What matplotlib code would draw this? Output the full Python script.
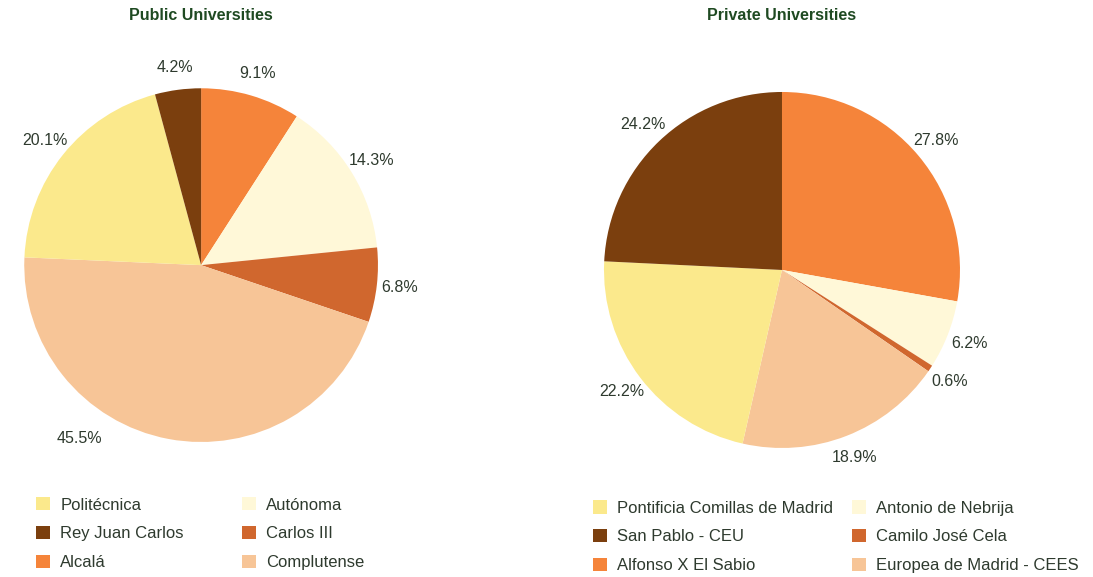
import numpy as np
import matplotlib.pyplot as plt

plt.rcParams['font.family'] = ['Liberation Sans', 'DejaVu Sans']

# pie data, clockwise from 12 o'clock
public_names = ['Alcalá', 'Autónoma', 'Carlos III', 'Complutense', 'Politécnica', 'Rey Juan Carlos']
public_share = [9.1, 14.3, 6.8, 45.5, 20.1, 4.2]

private_names = ['Alfonso X El Sabio', 'Antonio de Nebrija', 'Camilo José Cela',
                 'Europea de Madrid - CEES', 'Pontificia Comillas de Madrid', 'San Pablo - CEU']
private_share = [27.8, 6.2, 0.6, 18.9, 22.2, 24.2]

# legend order (column-wise, two columns)
public_legend = ['Politécnica', 'Rey Juan Carlos', 'Alcalá', 'Autónoma', 'Carlos III', 'Complutense']
private_legend = ['Pontificia Comillas de Madrid', 'San Pablo - CEU', 'Alfonso X El Sabio',
                  'Antonio de Nebrija', 'Camilo José Cela', 'Europea de Madrid - CEES']

# orange, cream, rust, peach, yellow, brown
colors = ['#F5843A', '#FFF8D8', '#D0672E', '#F7C597', '#FBE98C', '#7B3F0E']

text_color = '#2E3A2E'
title_color = '#1F4A22'

fig = plt.figure(figsize=(10.93, 5.77), dpi=100)

ax_pub = fig.add_axes([0.022, 0.234, 0.324, 0.613])
ax_priv = fig.add_axes([0.5526, 0.2236, 0.3257, 0.617])


def draw(ax, names, share, legend_order, colspace, leg_anchor):
    wedges, _, autotexts = ax.pie(share, colors=colors, startangle=90, counterclock=False,
                                  autopct='%.1f%%', pctdistance=1.13,
                                  wedgeprops=dict(linewidth=0),
                                  textprops=dict(color=text_color, fontsize=11.5))
    ax.set_aspect('equal')
    ax.set_xlim(-1, 1)
    ax.set_ylim(-1, 1)
    handles = [wedges[names.index(n)] for n in legend_order]
    leg = ax.legend(handles, legend_order, ncol=2, loc='upper left',
                    bbox_to_anchor=leg_anchor, frameon=False,
                    fontsize=12, handlelength=0.85, handleheight=0.85,
                    handletextpad=0.6, labelspacing=0.8, columnspacing=colspace,
                    borderaxespad=0, borderpad=0)
    for t in leg.get_texts():
        t.set_color(text_color)
    return autotexts


pub_texts = draw(ax_pub, public_names, public_share, public_legend, 3.5, (0.034, -0.156))
draw(ax_priv, private_names, private_share, private_legend, 1.15, (-0.031, -0.147))

# the big slice's label sits further round in the original
ang = np.radians(-125)
pub_texts[3].set_position((1.2 * np.cos(ang), 1.2 * np.sin(ang)))

fig.text(201 / 1093, 1 - 15 / 577, 'Public Universities', ha='center', va='center',
         fontsize=11.5, fontweight='bold', color=title_color)
fig.text(782 / 1093, 1 - 15 / 577, 'Private Universities', ha='center', va='center',
         fontsize=11.5, fontweight='bold', color=title_color)

fig.savefig('out.png', dpi=100)
